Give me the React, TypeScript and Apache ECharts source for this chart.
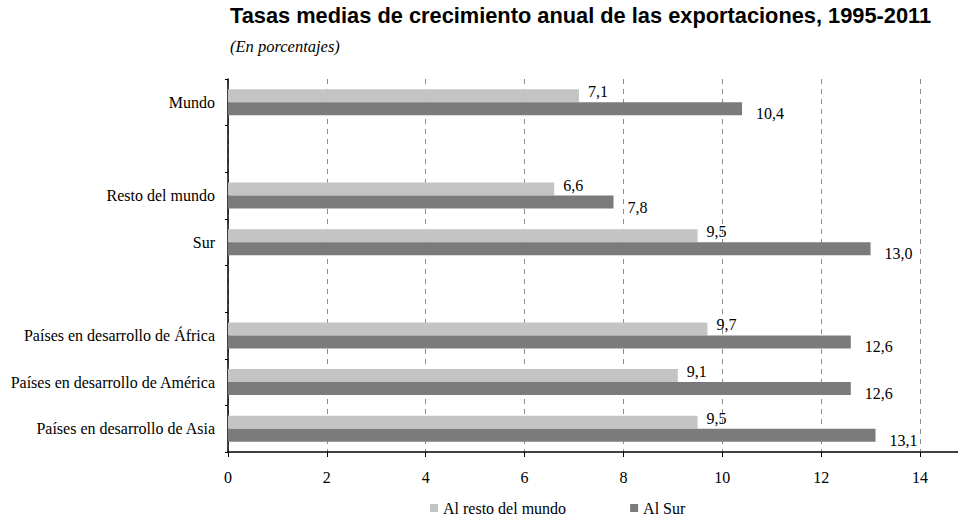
import React, { useEffect, useRef } from "react";
import * as echarts from "echarts";

const categories = [
  "Mundo",
  "",
  "Resto del mundo",
  "Sur",
  "",
  "Países en desarrollo de África",
  "Países en desarrollo de América",
  "Países en desarrollo de Asia",
];
const alRestoDelMundo = [7.1, null, 6.6, 9.5, null, 9.7, 9.1, 9.5];
const alSur = [10.4, null, 7.8, 13.0, null, 12.6, 12.6, 13.1];
const xTicks = { min: 0, max: 14, interval: 2 };
const seriesNames = ["Al resto del mundo", "Al Sur"];
const titleText = "Tasas medias de crecimiento anual de las exportaciones, 1995-2011";
const subtitleText = "(En porcentajes)";

const serif = "'Liberation Serif', 'Times New Roman', 'DejaVu Serif', serif";
const sans = "'Liberation Sans', Arial, Helvetica, sans-serif";

const fmt = (v: any) => {
  const n = typeof v === "object" && v !== null ? v.value : v;
  if (n === null || n === undefined || n === "-") return "";
  return Number(n).toFixed(1).replace(".", ",");
};

export default function App() {
  const ref = useRef<HTMLDivElement>(null);
  useEffect(() => {
    if (!ref.current) return;
    const chart = echarts.init(ref.current, null, { renderer: "svg" });
    chart.setOption({
      animation: false,
      backgroundColor: "#ffffff",
      title: [
        {
          text: titleText,
          left: 225,
          top: -1,
          textStyle: { fontFamily: sans, fontWeight: "bold", fontSize: 21.8, color: "#000" },
        },
        {
          text: subtitleText,
          left: 225,
          top: 33,
          textStyle: { fontFamily: serif, fontStyle: "italic", fontWeight: "normal", fontSize: 16.5, color: "#000" },
        },
      ],
      legend: {
        data: seriesNames,
        left: 430,
        top: 500,
        padding: 0,
        itemWidth: 8,
        itemHeight: 8,
        itemGap: 64,
        icon: "rect",
        textStyle: { fontFamily: serif, fontSize: 16, color: "#000" },
      },
      grid: { left: 228, right: 38, top: 79, bottom: 65, containLabel: false },
      xAxis: {
        type: "value",
        min: xTicks.min,
        max: xTicks.max,
        interval: xTicks.interval,
        axisLine: { show: true, lineStyle: { color: "#000", width: 1.5 } },
        axisTick: { show: true, length: 5, lineStyle: { color: "#000" } },
        axisLabel: { fontFamily: serif, fontSize: 16, color: "#000", margin: 17 },
        splitLine: { show: true, lineStyle: { color: "#8c8c8c", type: [5, 5], width: 1 } },
      },
      yAxis: {
        type: "category",
        data: categories,
        inverse: true,
        axisLine: { show: true, lineStyle: { color: "#000", width: 1.5 } },
        axisTick: { show: true, length: 3, lineStyle: { color: "#000" } },
        axisLabel: { fontFamily: serif, fontSize: 16, color: "#000", margin: 13 },
        splitLine: { show: false },
      },
      graphic: [
        {
          type: "line",
          shape: { x1: 920, y1: 452, x2: 958, y2: 452 },
          style: { stroke: "#000", lineWidth: 1.5 },
        },
      ],
      series: [
        {
          name: seriesNames[0],
          type: "bar",
          data: alRestoDelMundo,
          barWidth: 13,
          barGap: "0%",
          itemStyle: { color: "#c4c4c4" },
          label: {
            show: true,
            position: "right",
            distance: 9,
            offset: [0, -4],
            formatter: (p: any) => fmt(p.value),
            fontFamily: serif,
            fontSize: 16,
            color: "#000",
          },
        },
        {
          name: seriesNames[1],
          type: "bar",
          data: alSur,
          barWidth: 13,
          barGap: "0%",
          itemStyle: { color: "#7b7b7b" },
          label: {
            show: true,
            position: "right",
            distance: 14,
            offset: [0, 5],
            formatter: (p: any) => fmt(p.value),
            fontFamily: serif,
            fontSize: 16,
            color: "#000",
          },
        },
      ],
    });
    return () => chart.dispose();
  }, []);
  return <div ref={ref} style={{ width: 958, height: 517, position: "absolute", left: 0, top: 0 }} />;
}
